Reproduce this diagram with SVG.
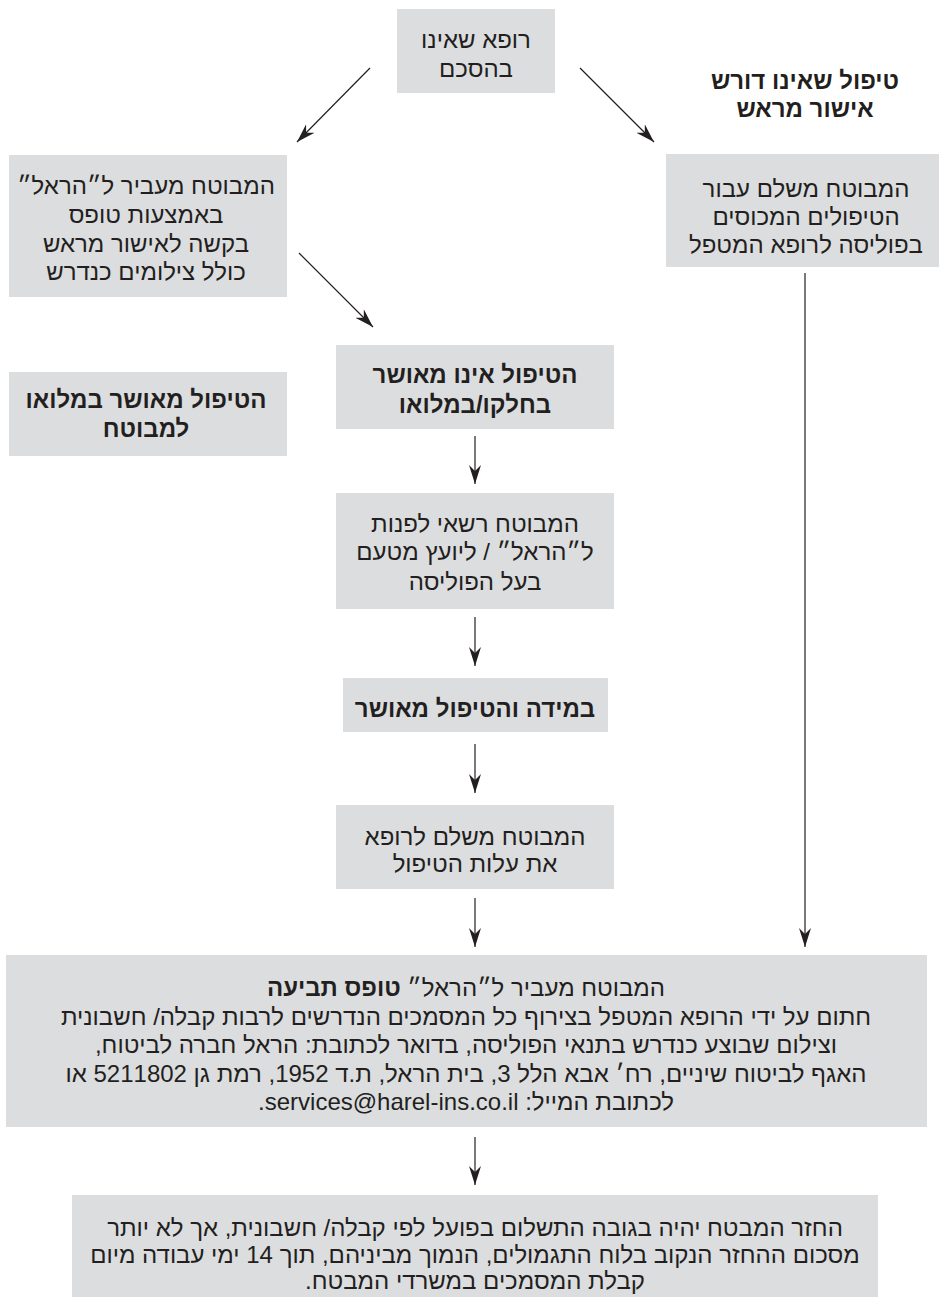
<svg xmlns="http://www.w3.org/2000/svg" width="939" height="1301" viewBox="0 0 939 1301">
<defs>
<style>
.box{fill:#dcdddf;}
.t{font-family:"Liberation Sans","DejaVu Sans",sans-serif;font-size:24px;fill:#231f20;text-anchor:middle;direction:rtl;}
.b{font-weight:bold;}
.c{stroke:#231f20;stroke-width:1.2;fill:none;marker-end:url(#ah);}
</style>
<marker id="ah" markerUnits="userSpaceOnUse" markerWidth="20" markerHeight="14" viewBox="-19 -7 20 14" refX="0" refY="0" orient="auto">
<path d="M0,0 L-19,-6 L-13,0 L-19,6 Z" fill="#231f20"/>
</marker>
</defs>
<rect width="939" height="1301" fill="#ffffff"/>

<g id="connectors">
<line class="c" x1="370" y1="68" x2="297" y2="142"/>
<line class="c" x1="580" y1="68" x2="654" y2="142"/>
<line class="c" x1="299" y1="253" x2="373" y2="327"/>
<line class="c" x1="475" y1="436" x2="475" y2="484"/>
<line class="c" x1="475" y1="617" x2="475" y2="666"/>
<line class="c" x1="475" y1="744" x2="475" y2="793"/>
<line class="c" x1="475" y1="898" x2="475" y2="947"/>
<line class="c" x1="805" y1="273" x2="805" y2="947"/>
<line class="c" x1="475" y1="1137" x2="475" y2="1185"/>
</g>

<g id="n-top">
<rect class="box" x="397" y="9" width="158" height="84"/>
<text class="t" x="476" y="48">רופא שאינו</text>
<text class="t" x="476" y="77">בהסכם</text>
</g>

<g id="n-title">
<text class="t b" x="805" y="89">טיפול שאינו דורש</text>
<text class="t b" x="805" y="117">אישור מראש</text>
</g>

<g id="n-right">
<rect class="box" x="666" y="154" width="273" height="113"/>
<text class="t" x="806" y="197">המבוטח משלם עבור</text>
<text class="t" x="806" y="225">הטיפולים המכוסים</text>
<text class="t" x="806" y="253">בפוליסה לרופא המטפל</text>
</g>

<g id="n-left1">
<rect class="box" x="9" y="155" width="278" height="142"/>
<text class="t" x="146" y="194">המבוטח מעביר ל״הראל״</text>
<text class="t" x="146" y="223">באמצעות טופס</text>
<text class="t" x="146" y="252">בקשה לאישור מראש</text>
<text class="t" x="146" y="280">כולל צילומים כנדרש</text>
</g>

<g id="n-left2">
<rect class="box" x="9" y="372" width="278" height="84"/>
<text class="t b" x="146" y="408">הטיפול מאושר במלואו</text>
<text class="t b" x="146" y="437">למבוטח</text>
</g>

<g id="n-notapproved">
<rect class="box" x="336" y="345" width="278" height="84"/>
<text class="t b" x="475" y="383">הטיפול אינו מאושר</text>
<text class="t b" x="475" y="413">בחלקו/במלואו</text>
</g>

<g id="n-appeal">
<rect class="box" x="336" y="493" width="278" height="116"/>
<text class="t" x="475" y="532">המבוטח רשאי לפנות</text>
<text class="t" x="475" y="560">ל״הראל״ / ליועץ מטעם</text>
<text class="t" x="475" y="590">בעל הפוליסה</text>
</g>

<g id="n-ifapproved">
<rect class="box" x="343" y="678" width="265" height="54"/>
<text class="t b" x="475" y="717">במידה והטיפול מאושר</text>
</g>

<g id="n-pays">
<rect class="box" x="336" y="805" width="278" height="84"/>
<text class="t" x="475" y="845">המבוטח משלם לרופא</text>
<text class="t" x="475" y="872">את עלות הטיפול</text>
</g>

<g id="n-claim">
<rect class="box" x="6" y="955" width="921" height="172"/>
<text class="t" x="466" y="996">המבוטח מעביר ל״הראל״ <tspan class="b">טופס תביעה</tspan></text>
<text class="t" x="466" y="1024.5">חתום על ידי הרופא המטפל בצירוף כל המסמכים הנדרשים לרבות קבלה/ חשבונית</text>
<text class="t" x="466" y="1053">וצילום שבוצע כנדרש בתנאי הפוליסה, בדואר לכתובת: הראל חברה לביטוח,</text>
<text class="t" x="466" y="1081.5">האגף לביטוח שיניים, רח׳ אבא הלל 3, בית הראל, ת.ד 1952, רמת גן 5211802 או</text>
<text class="t" x="466" y="1110">לכתובת המייל: services@harel-ins.co.il.</text>
</g>

<g id="n-refund">
<rect class="box" x="72" y="1195" width="806" height="102"/>
<text class="t" x="475" y="1236">החזר המבטח יהיה בגובה התשלום בפועל לפי קבלה/ חשבונית, אך לא יותר</text>
<text class="t" x="475" y="1263">מסכום ההחזר הנקוב בלוח התגמולים, הנמוך מביניהם, תוך 14 ימי עבודה מיום</text>
<text class="t" x="475" y="1289">קבלת המסמכים במשרדי המבטח.</text>
</g>
</svg>
